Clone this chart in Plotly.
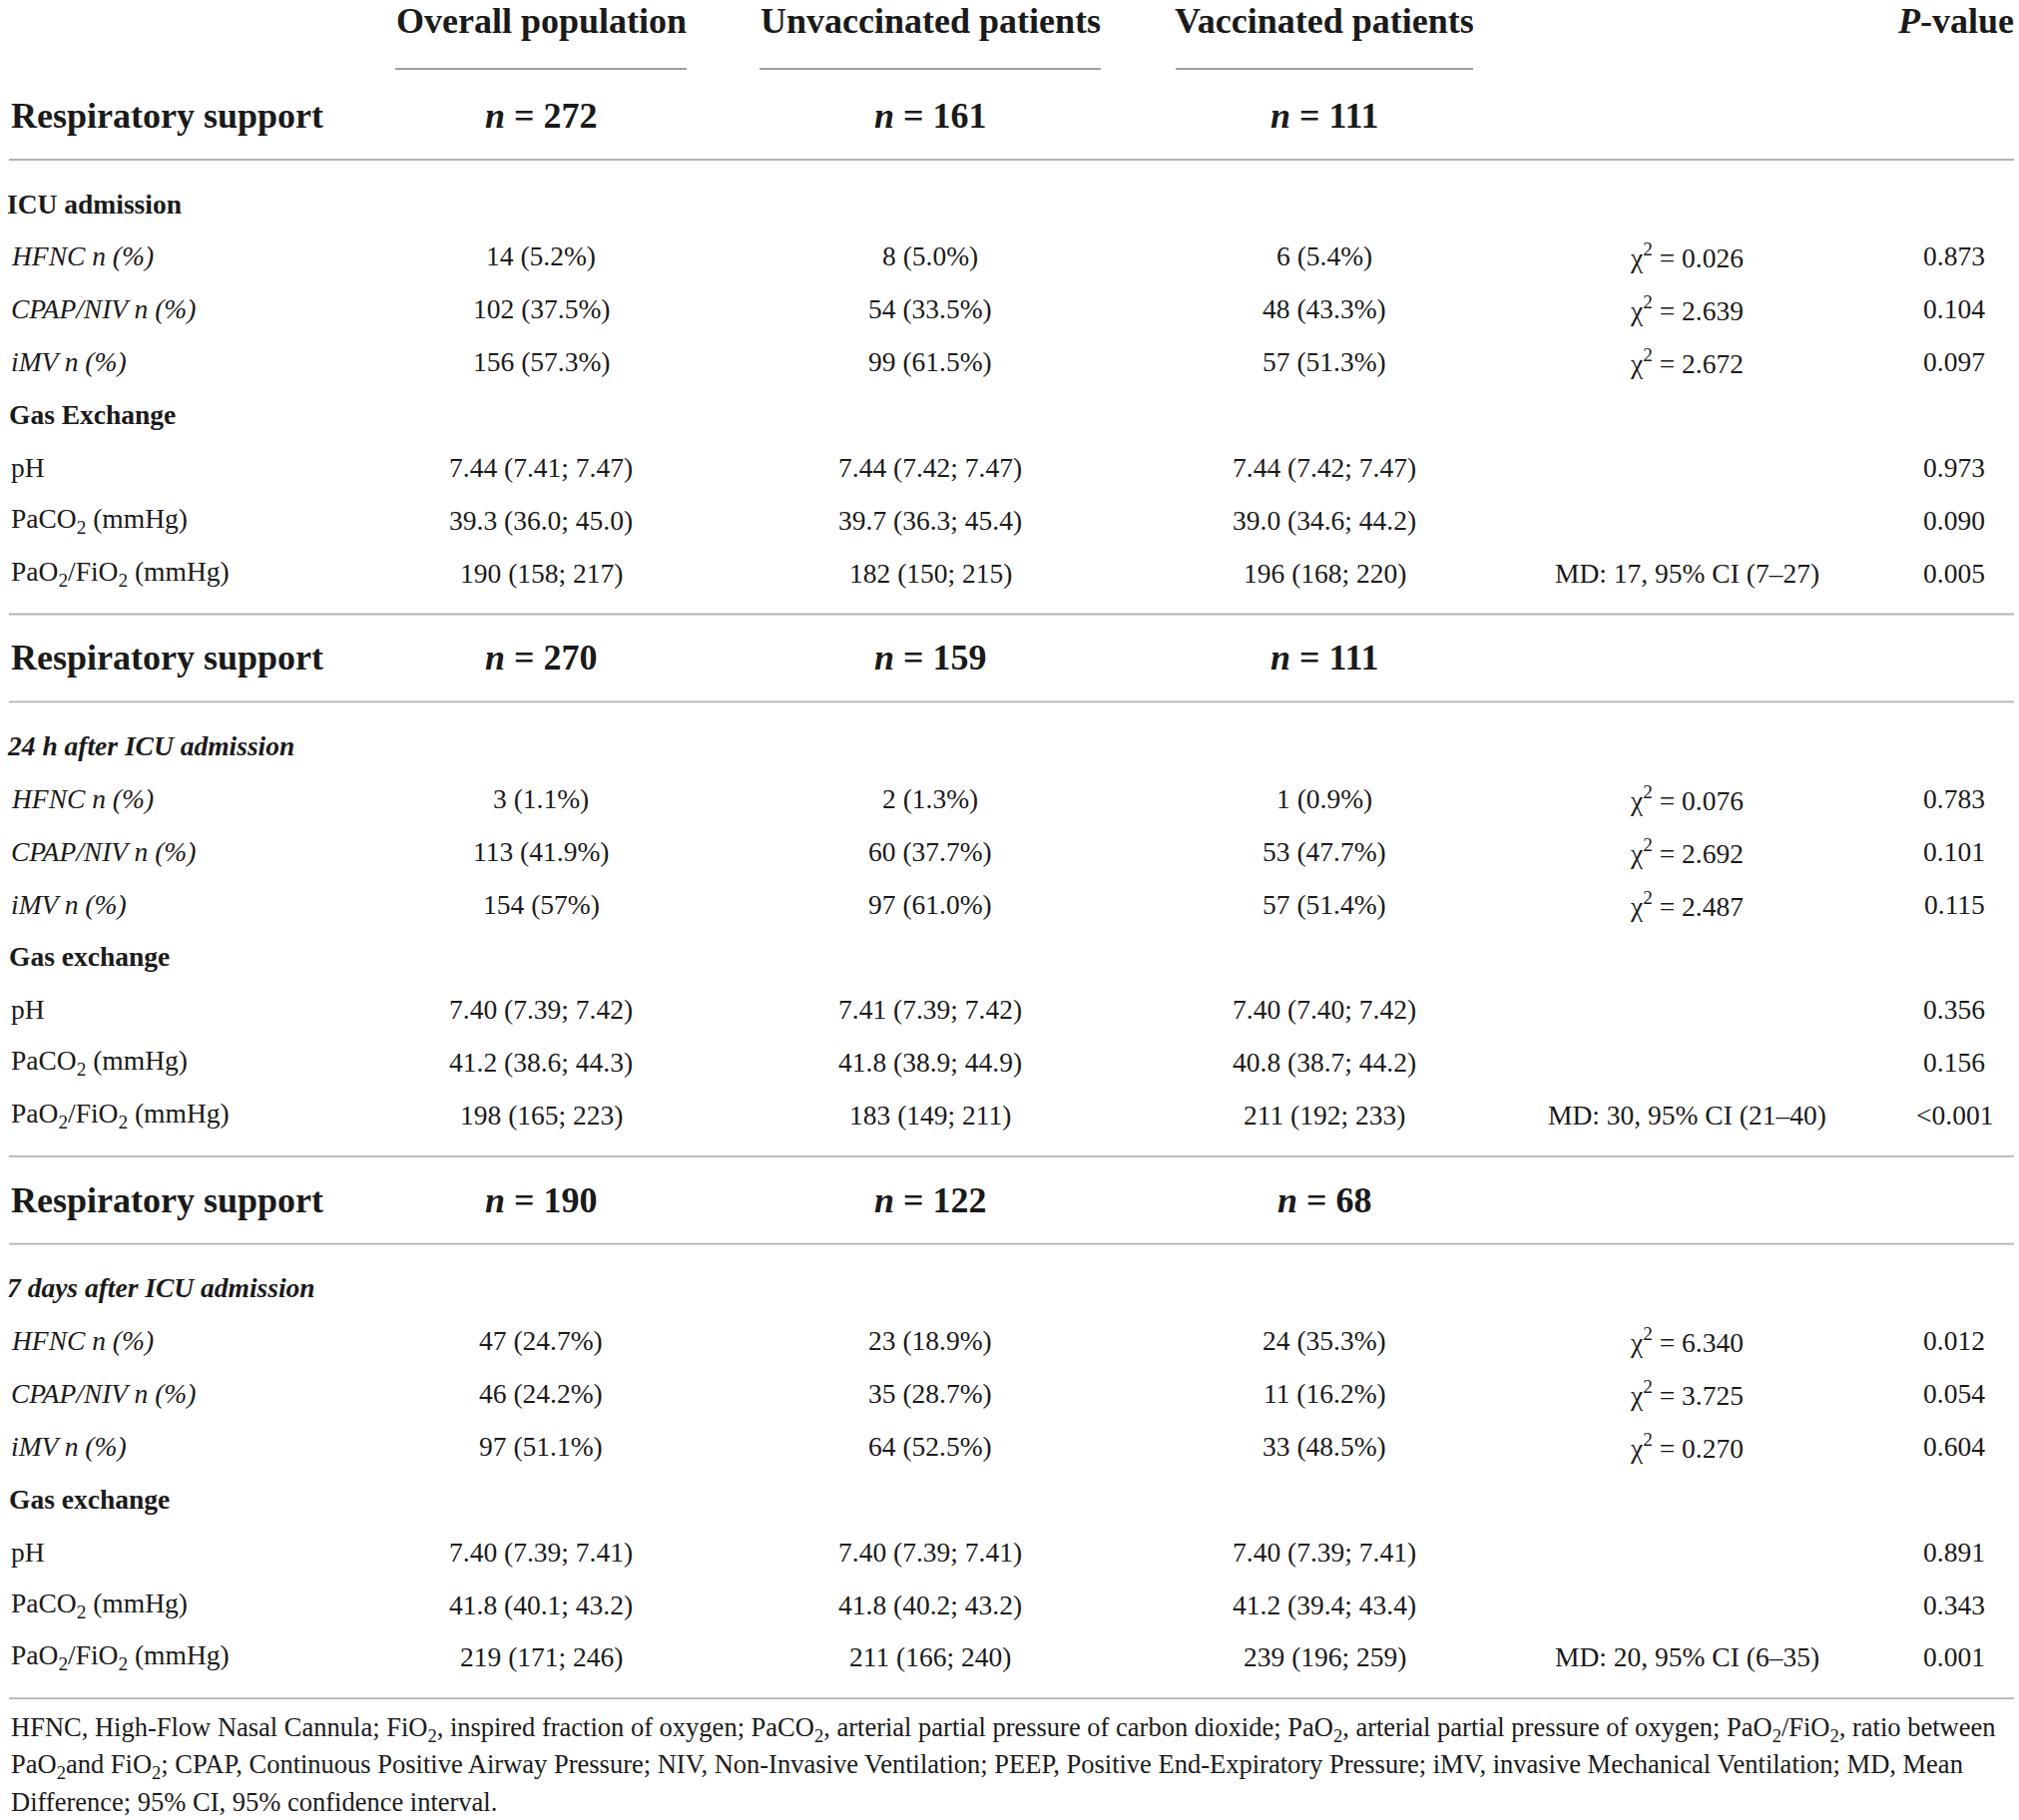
import plotly.graph_objects as go

W, H = 2023, 1824

# ---------------- data ----------------
col_headers = ["Overall population", "Unvaccinated patients", "Vaccinated patients"]
pvalue_header = "<i>P</i>-value"
section_title = "Respiratory support"
n_overall = [272, 270, 190]
n_unvacc = [161, 159, 122]
n_vacc = [111, 111, 68]
timepoints = ["ICU admission", "<i>24 h after ICU admission</i>", "<i>7 days after ICU admission</i>"]
gas_titles = ["Gas Exchange", "Gas exchange", "Gas exchange"]
support_labels = ["HFNC n (%)", "CPAP/NIV n (%)", "iMV n (%)"]
gas_labels = ["pH", "PaCO<sub>2</sub> (mmHg)", "PaO<sub>2</sub>/FiO<sub>2</sub> (mmHg)"]

overall_support = [["14 (5.2%)", "102 (37.5%)", "156 (57.3%)"],
                   ["3 (1.1%)", "113 (41.9%)", "154 (57%)"],
                   ["47 (24.7%)", "46 (24.2%)", "97 (51.1%)"]]
unvacc_support = [["8 (5.0%)", "54 (33.5%)", "99 (61.5%)"],
                  ["2 (1.3%)", "60 (37.7%)", "97 (61.0%)"],
                  ["23 (18.9%)", "35 (28.7%)", "64 (52.5%)"]]
vacc_support = [["6 (5.4%)", "48 (43.3%)", "57 (51.3%)"],
                ["1 (0.9%)", "53 (47.7%)", "57 (51.4%)"],
                ["24 (35.3%)", "11 (16.2%)", "33 (48.5%)"]]
chi2_support = [["0.026", "2.639", "2.672"],
                ["0.076", "2.692", "2.487"],
                ["6.340", "3.725", "0.270"]]
p_support = [["0.873", "0.104", "0.097"],
             ["0.783", "0.101", "0.115"],
             ["0.012", "0.054", "0.604"]]

overall_gas = [["7.44 (7.41; 7.47)", "39.3 (36.0; 45.0)", "190 (158; 217)"],
               ["7.40 (7.39; 7.42)", "41.2 (38.6; 44.3)", "198 (165; 223)"],
               ["7.40 (7.39; 7.41)", "41.8 (40.1; 43.2)", "219 (171; 246)"]]
unvacc_gas = [["7.44 (7.42; 7.47)", "39.7 (36.3; 45.4)", "182 (150; 215)"],
              ["7.41 (7.39; 7.42)", "41.8 (38.9; 44.9)", "183 (149; 211)"],
              ["7.40 (7.39; 7.41)", "41.8 (40.2; 43.2)", "211 (166; 240)"]]
vacc_gas = [["7.44 (7.42; 7.47)", "39.0 (34.6; 44.2)", "196 (168; 220)"],
            ["7.40 (7.40; 7.42)", "40.8 (38.7; 44.2)", "211 (192; 233)"],
            ["7.40 (7.39; 7.41)", "41.2 (39.4; 43.4)", "239 (196; 259)"]]
md_gas = ["MD: 17, 95% CI (7–27)", "MD: 30, 95% CI (21–40)", "MD: 20, 95% CI (6–35)"]
p_gas = [["0.973", "0.090", "0.005"],
         ["0.356", "0.156", "&lt;0.001"],
         ["0.891", "0.343", "0.001"]]

footnote_lines = [
    "HFNC, High-Flow Nasal Cannula; FiO<sub>2</sub>, inspired fraction of oxygen; PaCO<sub>2</sub>, arterial partial pressure of carbon dioxide; PaO<sub>2</sub>, arterial partial pressure of oxygen; PaO<sub>2</sub>/FiO<sub>2</sub>, ratio between",
    "PaO<sub>2</sub>and FiO<sub>2</sub>; CPAP, Continuous Positive Airway Pressure; NIV, Non-Invasive Ventilation; PEEP, Positive End-Expiratory Pressure; iMV, invasive Mechanical Ventilation; MD, Mean",
    "Difference; 95% CI, 95% confidence interval.",
]

# ---------------- layout constants ----------------
FONT = "Liberation Serif"
TXT = "#1a1a1a"
RULE = "#b3b3b3"
UNDER = "#808080"
BIG = 36
BODY = 27.5
FOOT = 26.5
LEFT = 9
RIGHT = 2018
col_x = [542, 932, 1327]
col_half = [146, 171, 149]
stat_x = 1690
p_x = 1958
header_y = 21
underline_y = 69
sec0 = 116
sec_step = 543.3
row_step = 52.9
foot_y0 = 1733
foot_step = 36.6

fig = go.Figure()
ann = []
shapes = []


def add(x, y, text, size=BODY, xanchor="center"):
    ann.append(dict(x=x, y=y, text=text, showarrow=False, xanchor=xanchor, yanchor="middle",
                    font=dict(family=FONT, size=size, color=TXT), xref="x", yref="y"))


def hline(x0, x1, y, color, w):
    shapes.append(dict(type="line", x0=x0, x1=x1, y0=y, y1=y, xref="x", yref="y",
                       line=dict(color=color, width=w)))


# header
for i, h in enumerate(col_headers):
    add(col_x[i], header_y, "<b>" + h + "</b>", BIG)
    hline(col_x[i] - col_half[i], col_x[i] + col_half[i], underline_y, UNDER, 1.5)
add(RIGHT + 2, header_y, "<b>" + pvalue_header + "</b>", BIG, "right")

for s in range(3):
    R = sec0 + s * sec_step
    add(LEFT, R, "<b>" + section_title + "</b>", BIG, "left")
    for i, nv in enumerate([n_overall[s], n_unvacc[s], n_vacc[s]]):
        add(col_x[i], R, "<b><i>n</i> = %d</b>" % nv, BIG)
    hline(LEFT, RIGHT, R + 44, RULE, 1.8)
    add(LEFT - 4, R + 88, "<b>" + timepoints[s] + "</b>", BODY, "left")
    for k in range(3):
        y = R + 88 + row_step * (k + 1)
        add(LEFT, y, "<i>" + support_labels[k] + "</i>", BODY, "left")
        add(col_x[0], y, overall_support[s][k])
        add(col_x[1], y, unvacc_support[s][k])
        add(col_x[2], y, vacc_support[s][k])
        add(stat_x, y, "χ<sup>2</sup> = " + chi2_support[s][k])
        add(p_x, y, p_support[s][k])
    yg = R + 88 + row_step * 4
    add(LEFT - 2, yg, "<b>" + gas_titles[s] + "</b>", BODY, "left")
    for k in range(3):
        y = R + 88 + row_step * (k + 5)
        add(LEFT, y, gas_labels[k], BODY, "left")
        add(col_x[0], y, overall_gas[s][k])
        add(col_x[1], y, unvacc_gas[s][k])
        add(col_x[2], y, vacc_gas[s][k])
        if k == 2:
            add(stat_x, y, md_gas[s])
        add(p_x, y, p_gas[s][k])
    hline(LEFT, RIGHT, R + 499.5, RULE, 1.8)

for i, line in enumerate(footnote_lines):
    add(LEFT, foot_y0 + i * foot_step, line, FOOT, "left")

fig.update_layout(
    width=W, height=H,
    margin=dict(l=0, r=0, t=0, b=0),
    paper_bgcolor="white", plot_bgcolor="white",
    xaxis=dict(range=[0, W], visible=False, fixedrange=True),
    yaxis=dict(range=[H, 0], visible=False, fixedrange=True),
    annotations=ann, shapes=shapes, showlegend=False,
)

fig.write_html("out.html", config={"displayModeBar": False},
               post_script="document.body.style.margin='0';document.body.style.overflow='hidden';")
